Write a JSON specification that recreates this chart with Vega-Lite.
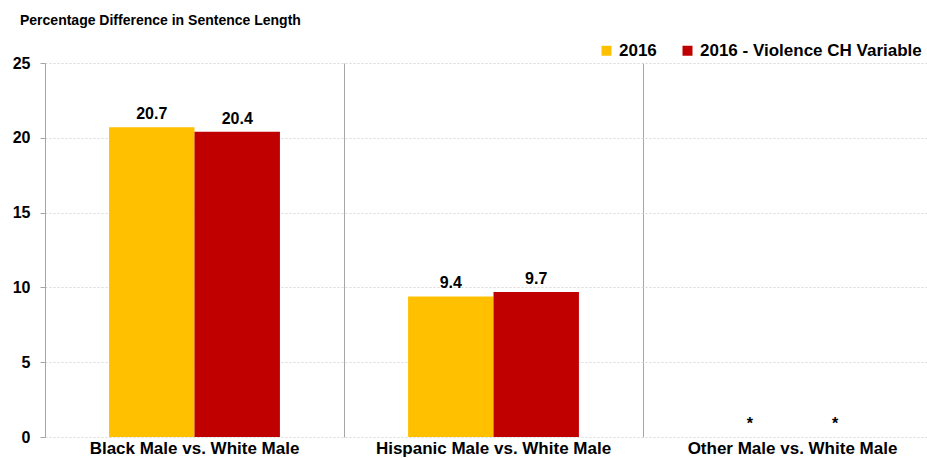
{
  "$schema": "https://vega.github.io/schema/vega-lite/v6.json",
  "autosize": "none",
  "padding": {"left": 45, "top": 63, "right": 0, "bottom": 21},
  "width": 882,
  "height": 374,
  "title": {
    "text": "Percentage Difference in Sentence Length",
    "anchor": "start",
    "frame": "group",
    "dx": -25,
    "offset": 14,
    "font": "Liberation Sans",
    "fontSize": 14,
    "fontWeight": "bold",
    "color": "#000000"
  },
  "data": {
    "values": [
      {"group": "Black Male vs. White Male", "series": "2016", "value": 20.7, "label": "20.7"},
      {"group": "Black Male vs. White Male", "series": "2016 - Violence CH Variable", "value": 20.4, "label": "20.4"},
      {"group": "Hispanic Male vs. White Male", "series": "2016", "value": 9.4, "label": "9.4"},
      {"group": "Hispanic Male vs. White Male", "series": "2016 - Violence CH Variable", "value": 9.7, "label": "9.7"},
      {"group": "Other Male vs. White Male", "series": "2016", "value": 0, "label": "*"},
      {"group": "Other Male vs. White Male", "series": "2016 - Violence CH Variable", "value": 0, "label": "*"}
    ]
  },
  "encoding": {
    "x": {
      "field": "group",
      "type": "nominal",
      "sort": null,
      "scale": {"range": [0, 897], "paddingInner": 0, "paddingOuter": 0},
      "axis": {
        "title": null,
        "labelAngle": 0,
        "domain": false,
        "ticks": false,
        "grid": true,
        "bandPosition": 0,
        "gridColor": "#a6a6a6",
        "gridWidth": 1,
        "labelFont": "Liberation Sans",
        "labelFontSize": 17,
        "labelFontWeight": "bold",
        "labelColor": "#000000",
        "labelLimit": 0,
        "labelPadding": 3
      }
    },
    "xOffset": {
      "field": "series",
      "type": "nominal",
      "sort": null,
      "scale": {"paddingOuter": 0.75, "paddingInner": 0}
    },
    "y": {
      "field": "value",
      "type": "quantitative",
      "scale": {"domain": [0, 25]},
      "axis": {
        "title": null,
        "values": [0, 5, 10, 15, 20, 25],
        "domainColor": "#a6a6a6",
        "tickColor": "#a6a6a6",
        "tickSize": 5,
        "gridColor": "#d9d9d9",
        "gridDash": [2, 2],
        "labelFont": "Liberation Sans",
        "labelFontSize": 16,
        "labelFontWeight": "bold",
        "labelColor": "#000000",
        "labelPadding": 10
      }
    }
  },
  "layer": [
    {
      "mark": {"type": "bar"},
      "encoding": {
        "color": {
          "field": "series",
          "type": "nominal",
          "scale": {"domain": ["2016", "2016 - Violence CH Variable"], "range": ["#FFC000", "#C00000"]},
          "legend": {
            "title": null,
            "orient": "none",
            "legendX": 553,
            "legendY": -21,
            "direction": "horizontal",
            "symbolType": "square",
            "symbolSize": 100,
            "symbolStrokeWidth": 0,
            "columnPadding": 22,
            "labelFont": "Liberation Sans",
            "labelFontSize": 17,
            "labelFontWeight": "bold",
            "labelColor": "#000000",
            "labelLimit": 0,
            "labelOffset": 4
          }
        }
      }
    },
    {
      "mark": {
        "type": "text",
        "baseline": "bottom",
        "dy": -5,
        "font": "Liberation Sans",
        "fontSize": 16,
        "fontWeight": "bold",
        "color": "#000000"
      },
      "encoding": {"text": {"field": "label"}}
    }
  ],
  "config": {"view": {"stroke": null}}
}
